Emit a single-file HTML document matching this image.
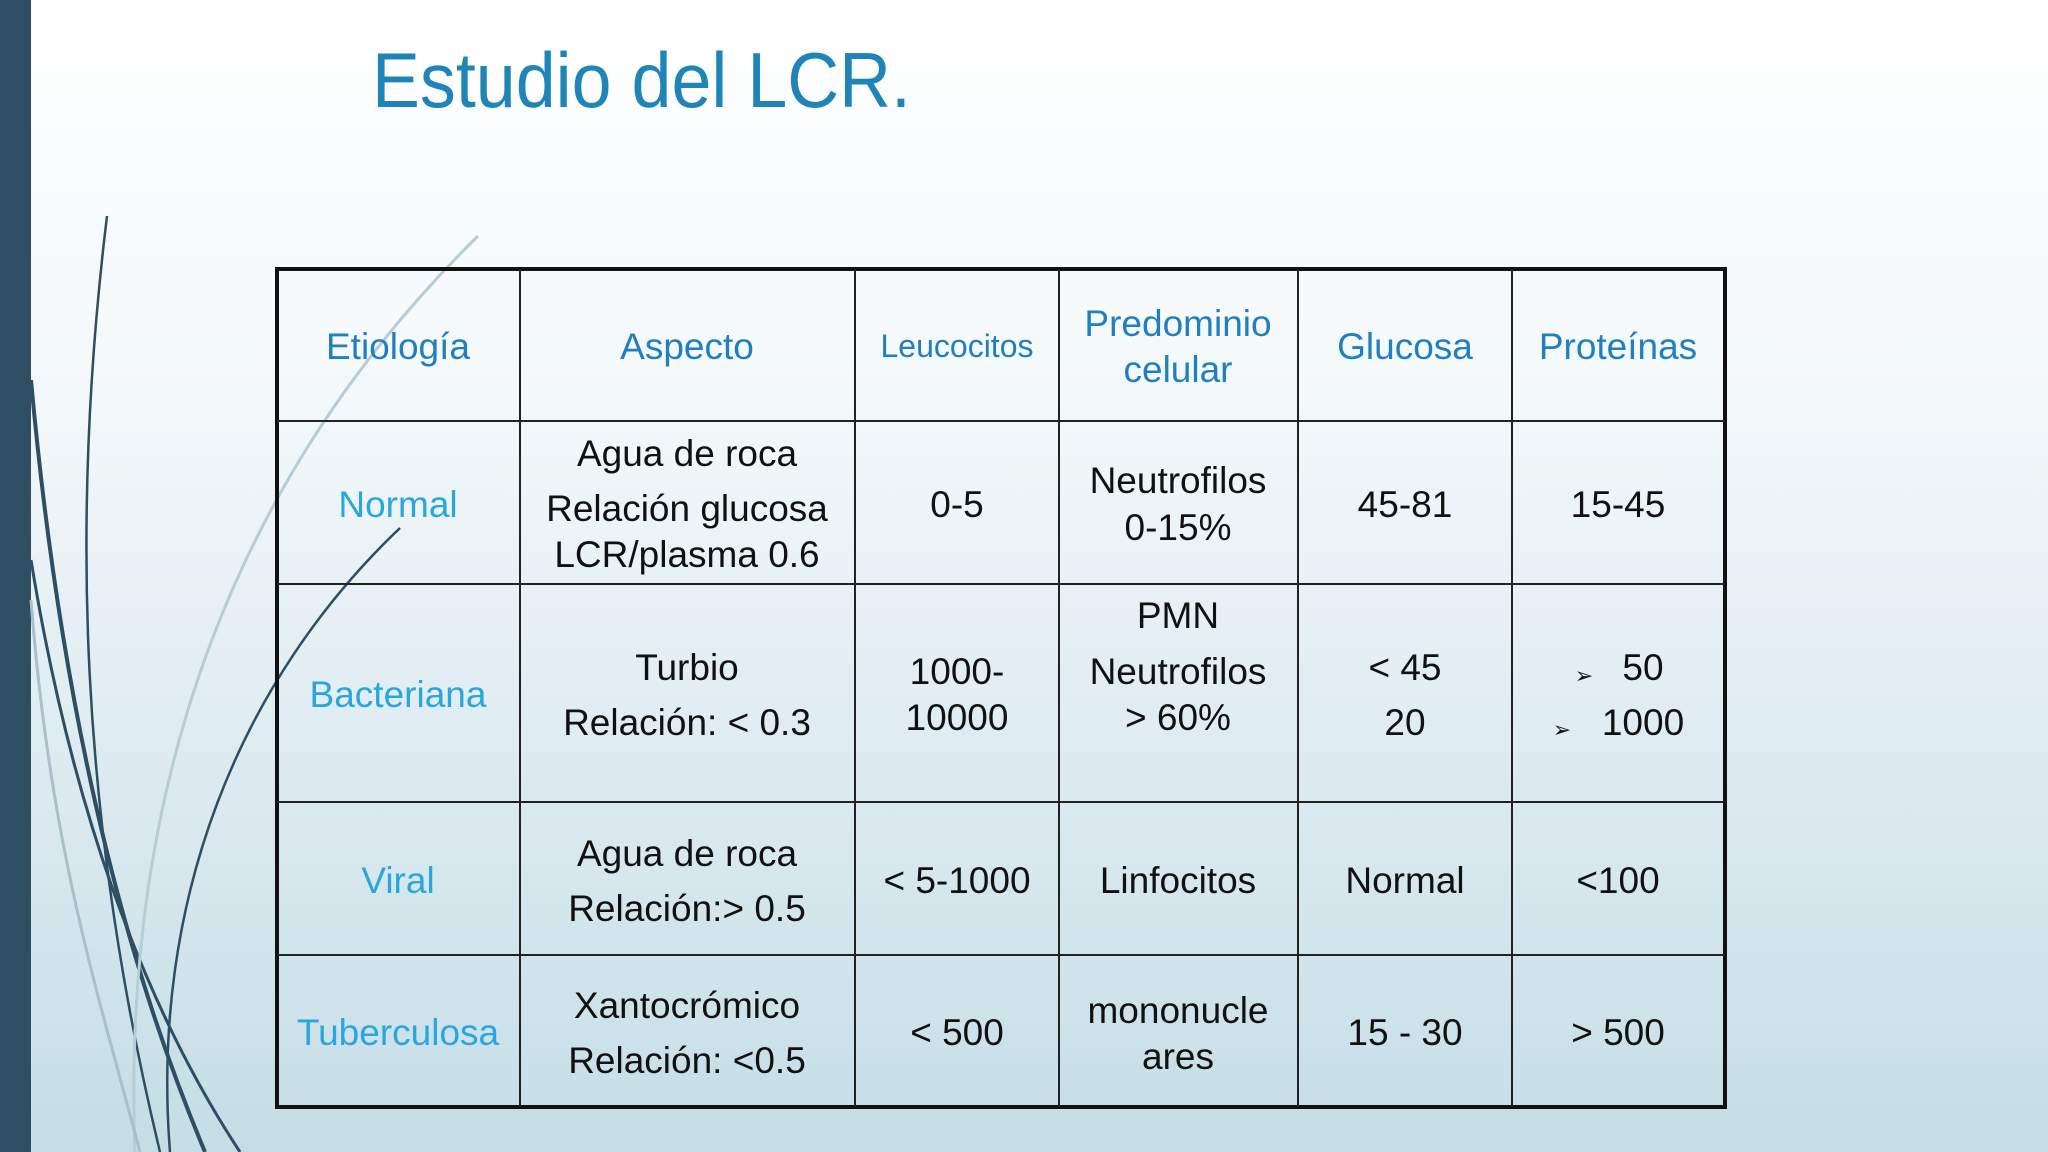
<!DOCTYPE html>
<html><head><meta charset="utf-8"><style>
html,body{margin:0;padding:0;width:2048px;height:1152px;overflow:hidden}
svg{display:block}
text{font-family:"Liberation Sans",sans-serif;}
</style></head><body>
<svg width="2048" height="1152" viewBox="0 0 2048 1152">
<defs>
<linearGradient id="bg" x1="0" y1="0" x2="0" y2="1">
<stop offset="0" stop-color="#ffffff"/><stop offset="0.35" stop-color="#f3f8fa"/><stop offset="1" stop-color="#c5dde6"/>
</linearGradient>
</defs>
<rect width="2048" height="1152" fill="url(#bg)"/>
<rect x="0" y="0" width="31" height="1152" fill="#2e4e63"/>
<g fill="none">
<path d="M107,216 C70,520 80,820 160,1152" stroke="#2e4e63" stroke-width="2.5"/>
<path d="M31,380 C60,700 120,950 205,1152" stroke="#2e4e63" stroke-width="4"/>
<path d="M31,560 C70,800 140,1000 240,1152" stroke="#2e4e63" stroke-width="3"/>
<path d="M400,528 C240,680 150,900 170,1152" stroke="#2e4e63" stroke-width="2.5"/>
<path d="M478,236 C250,460 120,760 135,1152" stroke="#b8ccd6" stroke-width="3"/>
<path d="M31,600 C50,850 100,1000 140,1152" stroke="#a9bfca" stroke-width="3"/>
</g>
<text x="372" y="107" font-size="78" fill="#1f84b8" textLength="539" lengthAdjust="spacingAndGlyphs">Estudio del LCR.</text>
<g>
<rect x="277" y="269" width="1448" height="838" fill="none" stroke="#111" stroke-width="4"/>
<g stroke="#222" stroke-width="2">
<line x1="520" y1="269" x2="520" y2="1107"/><line x1="855" y1="269" x2="855" y2="1107"/>
<line x1="1059" y1="269" x2="1059" y2="1107"/><line x1="1298" y1="269" x2="1298" y2="1107"/>
<line x1="1512" y1="269" x2="1512" y2="1107"/>
<line x1="277" y1="421" x2="1725" y2="421"/><line x1="277" y1="584" x2="1725" y2="584"/>
<line x1="277" y1="802" x2="1725" y2="802"/><line x1="277" y1="955" x2="1725" y2="955"/>
</g>
<g font-size="37" fill="#1f7fc0" text-anchor="middle">
<text x="398" y="359">Etiología</text>
<text x="687" y="359">Aspecto</text>
<text x="957" y="357" font-size="32">Leucocitos</text>
<text x="1178" y="336">Predominio</text><text x="1178" y="382">celular</text>
<text x="1405" y="359">Glucosa</text>
<text x="1618" y="359">Proteínas</text>
</g>
<g font-size="37" fill="#2aa6de" text-anchor="middle">
<text x="398" y="517">Normal</text>
<text x="398" y="707">Bacteriana</text>
<text x="398" y="893">Viral</text>
<text x="398" y="1045">Tuberculosa</text>
</g>
<g font-size="37" fill="#111" text-anchor="middle">
<text x="687" y="466">Agua de roca</text><text x="687" y="521">Relación glucosa</text><text x="687" y="567">LCR/plasma 0.6</text>
<text x="957" y="517">0-5</text>
<text x="1178" y="493">Neutrofilos</text><text x="1178" y="540">0-15%</text>
<text x="1405" y="517">45-81</text>
<text x="1618" y="517">15-45</text>
<text x="687" y="680">Turbio</text><text x="687" y="735">Relación: &lt; 0.3</text>
<text x="957" y="684">1000-</text><text x="957" y="730">10000</text>
<text x="1178" y="628">PMN</text><text x="1178" y="684">Neutrofilos</text><text x="1178" y="730">&gt; 60%</text>
<text x="1405" y="680">&lt; 45</text><text x="1405" y="735">20</text>
<text x="1584" y="683" font-size="22">➢</text><text x="1643" y="680">50</text>
<text x="1562" y="737" font-size="22">➢</text><text x="1643" y="735">1000</text>
<text x="687" y="866">Agua de roca</text><text x="687" y="921">Relación:&gt; 0.5</text>
<text x="957" y="893">&lt; 5-1000</text>
<text x="1178" y="893">Linfocitos</text>
<text x="1405" y="893">Normal</text>
<text x="1618" y="893">&lt;100</text>
<text x="687" y="1018">Xantocrómico</text><text x="687" y="1073">Relación: &lt;0.5</text>
<text x="957" y="1045">&lt; 500</text>
<text x="1178" y="1023">mononucle</text><text x="1178" y="1069">ares</text>
<text x="1405" y="1045">15 - 30</text>
<text x="1618" y="1045">&gt; 500</text>
</g>
</g>
</svg>
</body></html>
